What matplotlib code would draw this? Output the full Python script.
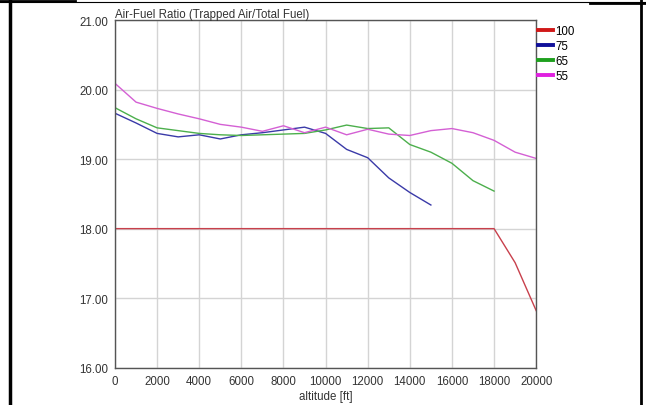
import matplotlib.pyplot as plt
from matplotlib.lines import Line2D

plt.rcParams['font.family'] = ['Liberation Sans', 'DejaVu Sans']

# altitude in ft
alt = [0, 1000, 2000, 3000, 4000, 5000, 6000, 7000, 8000, 9000, 10000,
       11000, 12000, 13000, 14000, 15000, 16000, 17000, 18000, 19000, 20000]

afr_100 = [18.0, 18.0, 18.0, 18.0, 18.0, 18.0, 18.0, 18.0, 18.0, 18.0, 18.0,
           18.0, 18.0, 18.0, 18.0, 18.0, 18.0, 18.0, 18.0, 17.51, 16.82]
afr_75 = [19.66, 19.52, 19.37, 19.32, 19.35, 19.29, 19.35, 19.38, 19.42, 19.46, 19.37,
          19.14, 19.02, 18.73, 18.52, 18.34]
afr_65 = [19.74, 19.58, 19.45, 19.41, 19.37, 19.35, 19.34, 19.35, 19.36, 19.37, 19.42,
          19.49, 19.44, 19.45, 19.21, 19.10, 18.94, 18.69, 18.54]
afr_55 = [20.09, 19.82, 19.73, 19.65, 19.58, 19.50, 19.46, 19.40, 19.48, 19.38, 19.46,
          19.35, 19.43, 19.36, 19.34, 19.41, 19.44, 19.38, 19.27, 19.10, 19.01]

labels = ['100', '75', '65', '55']
series = [afr_100, afr_75, afr_65, afr_55]
line_colors = ['#c8404c', '#3a3aa8', '#4caf4c', '#d460d4']
legend_colors = ['#d01818', '#10109a', '#1ea01e', '#e020e0']

fig = plt.figure(figsize=(6.46, 4.06), dpi=100)
ax = fig.add_axes([0.178, 0.092, 0.652, 0.856])

for vals, c in zip(series, line_colors):
    ax.plot(alt[:len(vals)], vals, color=c, lw=1.0)

ax.set_xlim(0, 20000)
ax.set_ylim(16, 21)
ax.set_xticks(range(0, 20001, 2000))
ax.set_yticks([16, 17, 18, 19, 20, 21])
ax.set_yticklabels(['%.2f' % v for v in [16, 17, 18, 19, 20, 21]])
ax.grid(True, color='#d4d4d4', lw=1.0)
ax.set_axisbelow(True)
ax.tick_params(length=0, labelsize=8.3, colors='#333333', pad=5)
for s in ax.spines.values():
    s.set_color('#555555')
    s.set_linewidth(1.0)

ax.set_xlabel('altitude [ft]', fontsize=8.3, color='#333333', labelpad=2.5)
ax.set_title('Air-Fuel Ratio (Trapped Air/Total Fuel)', loc='left', fontsize=8.3,
             color='#333333', pad=2)

handles = [Line2D([0], [0], color=c, lw=2.8) for c in legend_colors]
ax.legend(handles, labels, loc='upper left', bbox_to_anchor=(1.005, 0.985),
          frameon=False, fontsize=8.3, handlelength=1.3, handletextpad=0.2,
          labelspacing=0.25, borderaxespad=0, borderpad=0)

# page frame around the chart
fig.add_artist(Line2D([10 / 646, 10 / 646], [0, 1], color='black', lw=2.5))
fig.add_artist(Line2D([641 / 646, 641 / 646], [0, 1], color='black', lw=2.0))
fig.add_artist(Line2D([0, 1], [1 - 3 / 406, 1 - 3 / 406], color='black', lw=0.8))
fig.add_artist(Line2D([0, 75 / 646], [1 - 2 / 406, 1 - 2 / 406], color='black', lw=2.0))
fig.add_artist(Line2D([590 / 646, 1], [1 - 4 / 406, 1 - 4 / 406], color='black', lw=2.0))

fig.savefig('out.png', dpi=100)
